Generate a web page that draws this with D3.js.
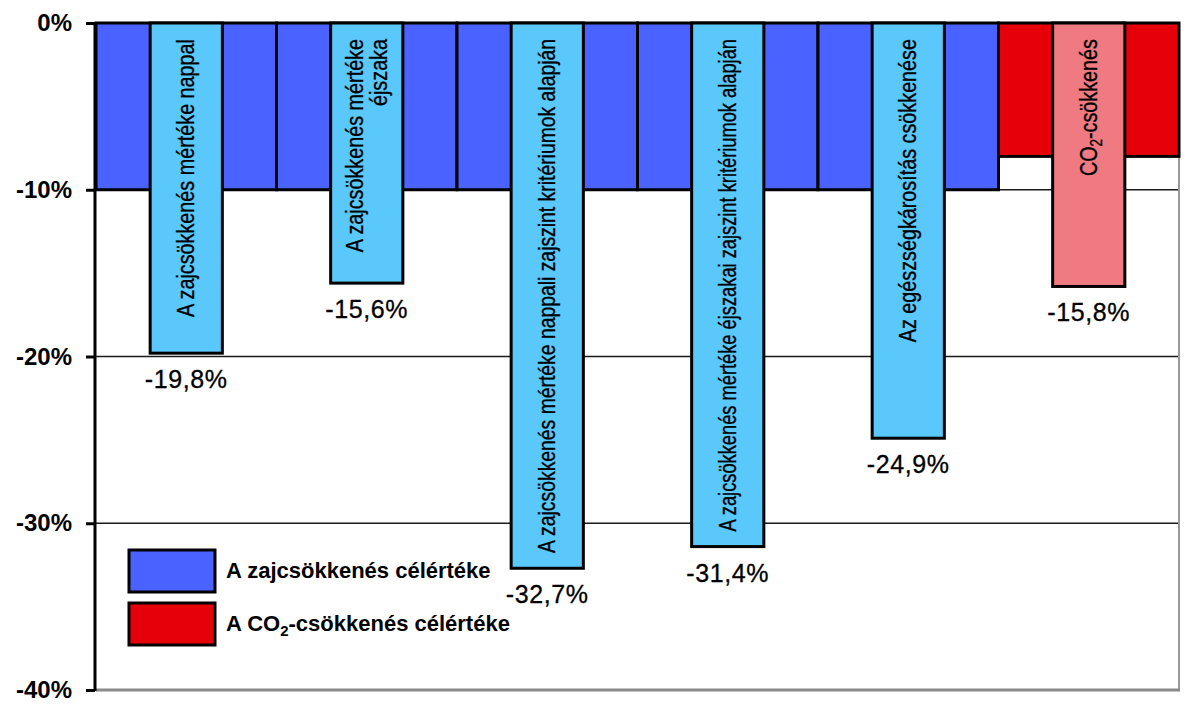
<!DOCTYPE html>
<html><head><meta charset="utf-8">
<script src="https://cdn.jsdelivr.net/npm/d3@7"></script>
<style>body{margin:0;background:#fff} svg{display:block} text{font-family:"Liberation Sans",Arial,Helvetica,sans-serif}</style>
</head><body><svg id="c" width="1200" height="723"></svg>
<script>
// ---- data ----
const categories = ["nappal", "ejszaka", "nappali_kriterium", "ejszakai_kriterium", "egeszseg", "co2"];
const barLabels = [
  ["A zajcsökkenés mértéke nappal"],
  ["A zajcsökkenés mértéke", "éjszaka"],
  ["A zajcsökkenés mértéke nappali zajszint kritériumok alapján"],
  ["A zajcsökkenés mértéke éjszakai zajszint kritériumok alapján"],
  ["Az egészségkárosítás csökkenése"],
  ["CO₂-csökkenés"]
];
const targetValues = [-10, -10, -10, -10, -10, -8];
const actualValues = [-19.8, -15.6, -32.7, -31.4, -24.9, -15.8];
const seriesType = ["zaj", "zaj", "zaj", "zaj", "zaj", "co2"];
const yTicks = [0, -10, -20, -30, -40];
const legendLabels = ["A zajcsökkenés célértéke", "A CO₂-csökkenés célértéke"];
const legendTypes = ["zaj", "co2"];

// ---- styles ----
const targetColor = {zaj: "#4a62ff", co2: "#e6000a"};
const actualColor = {zaj: "#5bc8fc", co2: "#f07a82"};
const FONT = '"Liberation Sans",Arial,Helvetica,sans-serif';

const svg = d3.select("#c");
const pLeft = 96, pRight = 1179, pTop = 23, pBottom = 690;

const loc = d3.formatLocale({decimal: ",", thousands: " ", grouping: [3], currency: ["", ""], minus: "-"});
const fmtVal = loc.format(".1f");
const fmtTick = loc.format("d");

const x = d3.scaleBand().domain(categories).range([pLeft, pRight]).padding(0);
const y = d3.scaleLinear().domain([-40, 0]).range([pBottom, pTop]);

function addRich(sel, str, fs) {
  const parts = str.split("₂");
  parts.forEach((p, i) => {
    if (i > 0) {
      sel.append("tspan").attr("font-size", fs * 0.68).attr("dy", fs * 0.22).text("2");
      sel.append("tspan").attr("font-size", fs).attr("dy", -fs * 0.22).text(p);
    } else {
      sel.append("tspan").text(p);
    }
  });
}

// gridlines
svg.append("g").selectAll("line").data(yTicks.filter(t => t > -40 && t < 0)).join("line")
  .attr("x1", pLeft).attr("x2", pRight).attr("y1", d => y(d)).attr("y2", d => y(d))
  .attr("stroke", "#1a1a1a").attr("stroke-width", 1.5);

// plot border (gray)
svg.append("line").attr("x1", pRight).attr("x2", pRight).attr("y1", pTop).attr("y2", pBottom)
  .attr("stroke", "#999").attr("stroke-width", 2);
svg.append("line").attr("x1", pLeft).attr("x2", pRight + 1).attr("y1", pBottom).attr("y2", pBottom)
  .attr("stroke", "#8a8a8a").attr("stroke-width", 3);
svg.append("line").attr("x1", pLeft).attr("x2", pRight).attr("y1", pTop).attr("y2", pTop)
  .attr("stroke", "#777").attr("stroke-width", 2);

// target bars
svg.append("g").selectAll("rect").data(categories).join("rect")
  .attr("x", d => x(d)).attr("width", x.bandwidth())
  .attr("y", y(0)).attr("height", (d, i) => y(targetValues[i]) - y(0))
  .attr("fill", (d, i) => targetColor[seriesType[i]])
  .attr("stroke", "#000").attr("stroke-width", 3);

// actual bars
const innerW = x.bandwidth() * 0.4;
svg.append("g").selectAll("rect").data(categories).join("rect")
  .attr("x", d => x(d) + (x.bandwidth() - innerW) / 2).attr("width", innerW)
  .attr("y", y(0)).attr("height", (d, i) => y(actualValues[i]) - y(0))
  .attr("fill", (d, i) => actualColor[seriesType[i]])
  .attr("stroke", "#000").attr("stroke-width", 3);

// rotated labels inside bars (condensed, shrunk to fit the bar when needed)
const labFs = 23, lineGap = 24, textTop = 39;
categories.forEach((c, i) => {
  const cx = x(c) + x.bandwidth() / 2;
  const lines = barLabels[i];
  const avail = (y(actualValues[i]) - y(0)) - 31;
  lines.forEach((ln, j) => {
    const off = (j - (lines.length - 1) / 2) * lineGap;
    const g = svg.append("g").attr("transform", `translate(${cx + off},${textTop}) rotate(-90)`);
    const t = g.append("text").attr("text-anchor", "end").attr("dy", "0.35em")
      .attr("font-size", labFs).attr("fill", "#000")
      .attr("stroke", "#000").attr("stroke-width", 0.35);
    addRich(t, ln, labFs);
    const len = t.node().getComputedTextLength();
    const s = Math.min(0.86, avail / len);
    t.attr("transform", `scale(${s},1)`);
  });
});

// value labels
svg.append("g").selectAll("text").data(categories).join("text")
  .attr("x", d => x(d) + x.bandwidth() / 2)
  .attr("y", (d, i) => y(actualValues[i]) + 35)
  .attr("text-anchor", "middle").attr("font-size", 25).attr("letter-spacing", 0.6)
  .attr("fill", "#000").attr("stroke", "#000").attr("stroke-width", 0.3)
  .text((d, i) => fmtVal(actualValues[i]) + "%");

// y axis
const yAxis = d3.axisLeft(y).tickValues(yTicks).tickSize(9).tickPadding(14).tickFormat(d => fmtTick(d) + "%");
const ax = svg.append("g").attr("transform", `translate(${pLeft - 1},0)`).call(yAxis);
ax.select(".domain").attr("stroke", "#000").attr("stroke-width", 3).attr("d", `M0,${pTop - 1}V${pBottom + 1}`);
ax.selectAll(".tick line").attr("stroke", "#000").attr("stroke-width", 3);
ax.selectAll(".tick text").attr("font-family", FONT).attr("font-size", 24).attr("font-weight", "bold").attr("fill", "#000");

// legend
const lg = svg.append("g");
legendLabels.forEach((lab, i) => {
  const yy = 550 + i * 53;
  lg.append("rect").attr("x", 129).attr("y", yy).attr("width", 86).attr("height", 42)
    .attr("fill", targetColor[legendTypes[i]]).attr("stroke", "#000").attr("stroke-width", 3);
  const t = lg.append("text").attr("x", 226).attr("y", yy + 28).attr("font-size", 22)
    .attr("font-weight", "bold").attr("fill", "#000");
  addRich(t, lab, 22);
});
</script></body></html>
